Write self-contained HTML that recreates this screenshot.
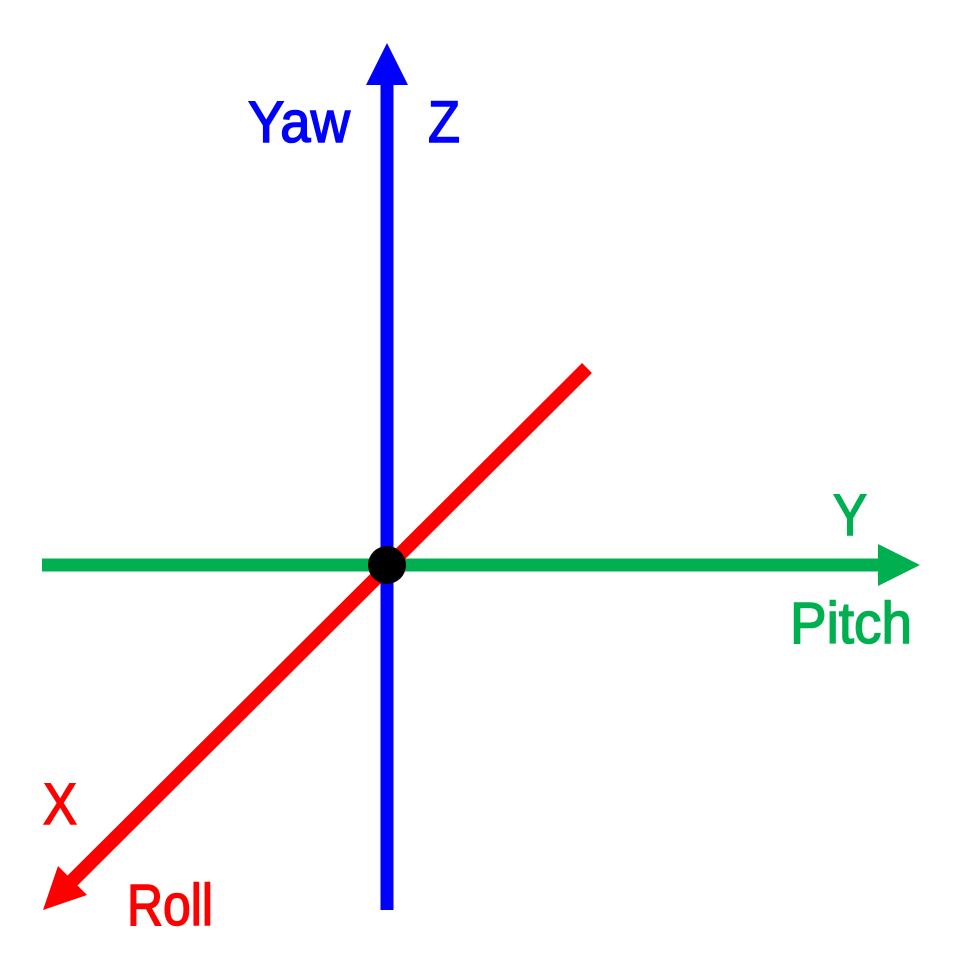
<!DOCTYPE html>
<html><head><meta charset="utf-8"><style>html,body{margin:0;padding:0;background:#fff}svg{display:block}text{font-family:"Liberation Sans",sans-serif;font-size:58px;stroke-width:1.5}</style></head>
<body>
<svg width="967" height="972" viewBox="0 0 967 972">
<g>
<line x1="387" y1="910" x2="387" y2="80" stroke="#0000ff" stroke-width="13"/>
<polygon points="387,43 366,85 408,85" fill="#0000ff"/>
</g>
<g>
<line x1="42" y1="565" x2="882" y2="565" stroke="#00b050" stroke-width="13"/>
<polygon points="920,565 878,544 878,586" fill="#00b050"/>
</g>
<g>
<line x1="587" y1="368" x2="72" y2="881" stroke="#ff0000" stroke-width="14"/>
<polygon points="43,910 58,866 87,895" fill="#ff0000"/>
</g>
<circle cx="387" cy="565" r="19" fill="#000"/>
<text x="248" y="142" fill="#0000ff" stroke="#0000ff" textLength="102" lengthAdjust="spacingAndGlyphs">Yaw</text>
<text x="428" y="142" fill="#0000ff" stroke="#0000ff" textLength="32" lengthAdjust="spacingAndGlyphs">Z</text>
<text x="833" y="535" fill="#00b050" stroke="#00b050" textLength="34" lengthAdjust="spacingAndGlyphs">Y</text>
<text x="790" y="643" fill="#00b050" stroke="#00b050" textLength="122" lengthAdjust="spacingAndGlyphs">Pitch</text>
<text x="43" y="824" fill="#ff0000" stroke="#ff0000" textLength="34" lengthAdjust="spacingAndGlyphs">X</text>
<text x="127" y="925" fill="#ff0000" stroke="#ff0000" textLength="86" lengthAdjust="spacingAndGlyphs">Roll</text>
</svg>
</body></html>
